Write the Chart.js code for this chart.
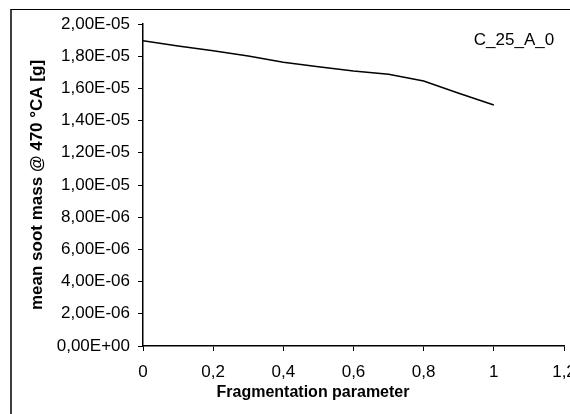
<!DOCTYPE html>
<html>
<head>
<meta charset="utf-8">
<title>C_25_A_0 soot mass</title>
<script src="https://cdn.jsdelivr.net/npm/chart.js@4/dist/chart.umd.min.js"></script>
<style>
    html, body {
        margin: 0;
        padding: 0;
        width: 570px;
        height: 414px;
        overflow: hidden;
        background: #fff;
    }
    #frame {
        position: absolute;
        left: 10px;
        top: 9px;
        width: 600px;
        height: 500px;
        border-left: 2px solid #404040;
        border-top: 1px solid #000;
    }
    #chart {
        position: absolute;
        left: 0;
        top: 0;
    }
</style>
</head>
<body>
<div id="frame"></div>
<canvas id="chart" width="600" height="414"></canvas>
<script>
// Chart data
const fragmentation = [0, 0.1, 0.2, 0.3, 0.4, 0.5, 0.6, 0.7, 0.8, 0.9, 1.0];
const sootMass = [1.896e-5, 1.863e-5, 1.834e-5, 1.801e-5, 1.762e-5, 1.735e-5, 1.708e-5, 1.688e-5, 1.646e-5, 1.570e-5, 1.497e-5];
const xTicks = [0, 0.2, 0.4, 0.6, 0.8, 1, 1.2];
const yTicks = [0, 2e-6, 4e-6, 6e-6, 8e-6, 1e-5, 1.2e-5, 1.4e-5, 1.6e-5, 1.8e-5, 2e-5];

const seriesLabel = 'C_25_A_0';
const xTitle = 'Fragmentation parameter';
const yTitle = 'mean soot mass @ 470 °CA [g]';

const FONT = '"Liberation Sans", Arial, sans-serif';

// Excel style scientific notation with comma decimals, e.g. 1,80E-05
function sciLabel(value) {
    if (Math.abs(value) < 1e-12) return '0,00E+00';
    const parts = value.toExponential(2).split('e');
    const exp = parseInt(parts[1], 10);
    const sign = exp < 0 ? '-' : '+';
    const digits = String(Math.abs(exp)).padStart(2, '0');
    return parts[0].replace('.', ',') + 'E' + sign + digits;
}

function commaLabel(value) {
    return String(Math.round(value * 10) / 10).replace('.', ',');
}

// Axis titles and the series tag, drawn at fixed spots like the Excel chart
const titlePlugin = {
    id: 'titles',
    afterDraw(chart) {
        const ctx = chart.ctx;
        const area = chart.chartArea;
        ctx.save();
        ctx.fillStyle = '#000';
        ctx.textAlign = 'center';
        ctx.textBaseline = 'middle';

        ctx.font = 'bold 16px ' + FONT;
        ctx.fillText(xTitle, 313, 393);

        ctx.font = 'bold 17px ' + FONT;
        ctx.translate(37, (area.top + area.bottom) / 2);
        ctx.rotate(-Math.PI / 2);
        ctx.fillText(yTitle, 0, 0);
        ctx.restore();

        ctx.save();
        ctx.fillStyle = '#000';
        ctx.font = '17px ' + FONT;
        ctx.textAlign = 'center';
        ctx.textBaseline = 'middle';
        ctx.fillText(seriesLabel, 514, 40);
        ctx.restore();
    }
};

const ctx = document.getElementById('chart').getContext('2d');

new Chart(ctx, {
    type: 'line',
    data: {
        datasets: [{
            label: seriesLabel,
            data: fragmentation.map((x, i) => ({ x: x, y: sootMass[i] })),
            borderColor: '#000',
            borderWidth: 1.5,
            pointRadius: 0,
            tension: 0,
            fill: false
        }]
    },
    options: {
        responsive: false,
        animation: false,
        devicePixelRatio: 1,
        layout: {
            padding: { top: 24, right: 36, left: 0, bottom: 0 }
        },
        plugins: {
            legend: { display: false },
            tooltip: { enabled: false }
        },
        scales: {
            x: {
                type: 'linear',
                min: 0,
                max: 1.2,
                afterBuildTicks: (scale) => {
                    scale.ticks = xTicks.map(v => ({ value: v }));
                },
                afterFit: (scale) => {
                    scale.height = 68;
                },
                border: { color: '#000', width: 1.5 },
                grid: {
                    drawOnChartArea: false,
                    drawTicks: true,
                    tickLength: 5,
                    color: '#000'
                },
                ticks: {
                    color: '#000',
                    padding: 11,
                    maxRotation: 0,
                    autoSkip: false,
                    font: { family: FONT, size: 17 },
                    callback: (value) => commaLabel(value)
                }
            },
            y: {
                type: 'linear',
                min: 0,
                max: 2e-5,
                afterBuildTicks: (scale) => {
                    scale.ticks = yTicks.map(v => ({ value: v }));
                },
                afterFit: (scale) => {
                    scale.width = 143;
                },
                border: { color: '#000', width: 1.5 },
                grid: {
                    drawOnChartArea: false,
                    drawTicks: true,
                    tickLength: 5,
                    color: '#000'
                },
                ticks: {
                    color: '#000',
                    padding: 8,
                    autoSkip: false,
                    font: { family: FONT, size: 17 },
                    callback: (value) => sciLabel(value)
                }
            }
        }
    },
    plugins: [titlePlugin]
});
</script>
</body>
</html>
